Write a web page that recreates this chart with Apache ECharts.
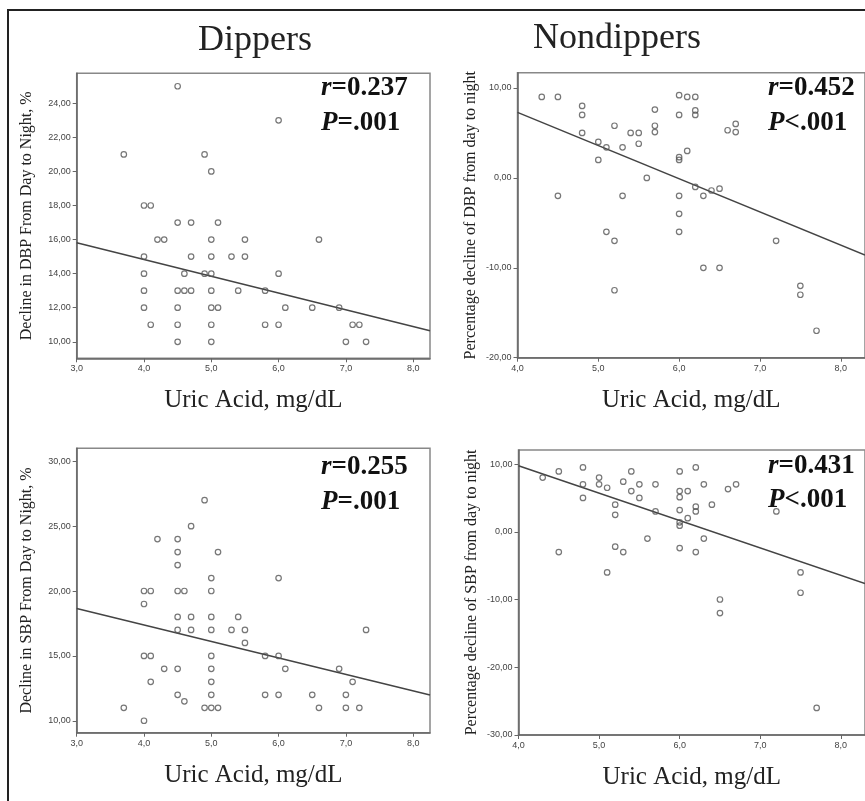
<!DOCTYPE html>
<html><head><meta charset="utf-8">
<script src="https://cdn.jsdelivr.net/npm/echarts@6.0.0/dist/echarts.min.js"></script>
<style>html,body{margin:0;padding:0;background:#fff}#c{width:865px;height:801px}</style>
</head><body><div id="c"></div>
<script>
// ---- Data ----
const panelTitles = ['Dippers', 'Nondippers'];
const xName = 'Uric Acid, mg/dL';
const yNames = ['Decline in DBP From Day to Night, %', 'Percentage decline of DBP from day to night',
                'Decline in SBP From Day to Night, %', 'Percentage decline of SBP from day to night'];
const rTexts = ['0.237', '0.452', '0.255', '0.431'];
const pTexts = ['=.001', '<.001', '=.001', '<.001'];

const xTicksDip = [3, 4, 5, 6, 7, 8];
const xTicksNon = [4, 5, 6, 7, 8];
const yTicksDipDbp = [10, 12, 14, 16, 18, 20, 22, 24];
const yTicksNonDbp = [-20, -10, 0, 10];
const yTicksDipSbp = [10, 15, 20, 25, 30];
const yTicksNonSbp = [-30, -20, -10, 0, 10];

const dipDbpX = [4.5,3.7,4.9,5.0,6.0, 4.0,4.1, 4.5,4.7,5.1, 4.2,4.3,5.0,5.5,6.6, 4.0,4.7,5.0,5.3,5.5,
  4.0,4.6,4.9,5.0,6.0, 4.0,4.5,4.6,4.7,5.0,5.4,5.8, 4.0,4.5,5.0,5.1,6.1,6.5,6.9,
  4.1,4.5,5.0,5.8,6.0,7.1,7.2, 4.5,5.0,7.0,7.3];
const dipDbpY = [25,21,21,20,23, 18,18, 17,17,17, 16,16,16,16,16, 15,15,15,15,15,
  14,14,14,14,14, 13,13,13,13,13,13,13, 12,12,12,12,12,12,12,
  11,11,11,11,11,11,11, 10,10,10,10];

const nonDbpX = [4.3,4.5,4.8,4.8,4.8,5.0,5.1,5.0,5.2,5.3,5.4,5.5,5.5,5.6,4.5,5.3,5.1,5.2,5.2,
  5.7,5.7,5.7,6.0,6.1,6.2,6.0,6.2,6.2,6.6,6.7,6.7,6.0,6.0,6.1,6.2,6.3,6.4,6.5,6.0,6.0,6.0,
  6.3,6.5,7.2,7.5,7.5,7.7];
const nonDbpY = [9.0,9.0,8.0,7.0,5.0,4.0,3.4,2.0,5.8,3.4,5.0,5.0,3.8,0,-2,-2,-6,-7,-12.5,
  7.6,5.8,5.1,9.2,9.0,9.0,7.0,7.5,7.0,5.3,6.0,5.1,2.3,2.0,3.0,-1.0,-2,-1.4,-1.2,-2,-4,-6,
  -10,-10,-7,-12,-13,-17];

const dipSbpX = [4.9,4.7,4.2,4.5,4.5,5.1,4.5,5.0,6.0, 4.0,4.1,4.5,4.6,5.0,4.0,
  4.5,4.7,5.0,5.4, 4.5,4.7,5.0,5.3,5.5,7.3, 5.5, 4.0,4.1,5.0,5.8,6.0,
  4.3,4.5,5.0,6.1,6.9, 4.1,5.0,7.1, 4.5,4.6,5.0,5.8,6.0,6.5,7.0,
  3.7,4.9,5.0,5.1,6.6,7.0,7.2, 4.0];
const dipSbpY = [27,25,24,24,23,23,22,21,21, 20,20,20,20,20,19,
  18,18,18,18, 17,17,17,17,17,17, 16, 15,15,15,15,15,
  14,14,14,14,14, 13,13,13, 12,11.5,12,12,12,12,12,
  11,11,11,11,11,11,11, 10];

const nonSbpX = [4.3,4.5,4.8,4.8,4.8,5.0,5.0,5.1,5.2,5.2,5.3,5.4,5.4,5.5,5.5,5.6,4.5,5.2,5.3,5.1,
  5.7,5.7,6.0,6.2,6.3,6.0,6.0,6.1,6.0,6.2,6.2,6.4,6.0,6.0,6.1,6.6,6.7,6.3,6.0,6.2,6.5,6.5,
  7.2,7.5,7.5,7.7];
const nonSbpY = [8.0,8.9,9.5,7.0,5.0,8.0,7.0,6.5,4.0,2.5,7.4,8.9,6.0,7.0,5.0,-1.0,-3,-2.2,-3,-6,
  7.0,3.0,8.9,9.5,7.0,6.0,5.1,6.0,3.2,3.7,3.0,4.0,1.4,0.9,2.0,6.3,7.0,-1,-2.4,-3,-10,-12,
  3.0,-6,-9,-26];

// Fit line end points (x, y)
const fitDipDbp = [[3.0, 15.81], [8.25, 10.65]];
const fitNonDbp = [[4.0, 7.29], [8.3, -8.58]];
const fitDipSbp = [[3.0, 18.66], [8.25, 11.98]];
const fitNonSbp = [[4.0, 9.74], [8.3, -7.63]];

// ---- Chart ----
const SERIF = 'Liberation Serif, Times New Roman, serif';
const SANS = 'Liberation Sans Narrow, Liberation Sans, Arial, sans-serif';
const zip = (xs, ys) => xs.map((x, i) => [x, ys[i]]);

const grids = [
  {left: 76.7, top: 73.3, width: 353.3, height: 285},
  {left: 517.5, top: 72.7, width: 358, height: 285},
  {left: 76.7, top: 448.3, width: 353.3, height: 284.4},
  {left: 518.5, top: 450, width: 356, height: 285}
].map(g => Object.assign({show: true, borderColor: '#888', borderWidth: 1.5, backgroundColor: '#fff'}, g));

const xRanges = [[3, 8.25, xTicksDip], [4, 8.3, xTicksNon], [3, 8.25, xTicksDip], [4, 8.3, xTicksNon]];
const yRanges = [[9.03, 25.76, yTicksDipDbp], [-20, 11.7, yTicksNonDbp], [9.08, 31.0, yTicksDipSbp], [-30, 12.07, yTicksNonSbp]];
const yGaps = [42, 39, 42, 39];

const axisLineStyle = {show: true, onZero: false, lineStyle: {color: '#666', width: 1.5}};
const tickStyle = {show: true, length: 4, lineStyle: {color: '#666', width: 1}};

const xAxes = xRanges.map((r, i) => ({
  type: 'value', gridIndex: i, min: r[0], max: r[1], position: 'bottom',
  splitLine: {show: false},
  axisLine: axisLineStyle,
  name: xName, nameLocation: 'middle', nameGap: 30,
  nameTextStyle: {fontFamily: SERIF, fontSize: 25, color: '#222'},
  axisTick: Object.assign({}, tickStyle, {customValues: r[2]}),
  axisLabel: {customValues: r[2], fontFamily: SANS, fontSize: 9, color: '#444', margin: 6,
    formatter: v => v.toFixed(1).replace('.', ',')}
}));

const yAxes = yRanges.map((r, i) => ({
  type: 'value', gridIndex: i, min: r[0], max: r[1], position: 'left',
  splitLine: {show: false},
  axisLine: axisLineStyle,
  name: yNames[i], nameLocation: 'middle', nameGap: yGaps[i],
  nameTextStyle: {fontFamily: SERIF, fontSize: 16, color: '#222'},
  axisTick: Object.assign({}, tickStyle, {customValues: r[2]}),
  axisLabel: {customValues: r[2], fontFamily: SANS, fontSize: 9, color: '#444', margin: 6,
    formatter: v => v.toFixed(2).replace('.', ',')}
}));

const scatterData = [zip(dipDbpX, dipDbpY), zip(nonDbpX, nonDbpY), zip(dipSbpX, dipSbpY), zip(nonSbpX, nonSbpY)];
const fits = [fitDipDbp, fitNonDbp, fitDipSbp, fitNonSbp];

const series = [];
scatterData.forEach((d, i) => {
  series.push({type: 'line', xAxisIndex: i, yAxisIndex: i, data: fits[i], symbol: 'none',
    lineStyle: {color: '#444', width: 1.5}, silent: true, z: 2});
  series.push({type: 'scatter', xAxisIndex: i, yAxisIndex: i, data: d, symbol: 'circle', symbolSize: 5.5,
    itemStyle: {color: 'rgba(255,255,255,0)', borderColor: '#555', borderWidth: 1.2}, z: 3});
});

const statPos = [[321, 88, 123], [768, 88, 123], [321, 467, 502], [768, 466, 500]];
const richStat = {
  i: {fontStyle: 'italic', fontWeight: 'bold', fontSize: 27, fontFamily: SERIF, fill: '#111', color: '#111'},
  n: {fontWeight: 'bold', fontSize: 27, fontFamily: SERIF, fill: '#111', color: '#111'}
};
const graphics = [
  {type: 'rect', shape: {x: 8, y: 10, width: 900, height: 900}, style: {fill: 'none', stroke: '#222', lineWidth: 2}, z: 100, silent: true},
  {type: 'text', x: 255, y: 41, style: {text: panelTitles[0], font: '36px ' + SERIF, fill: '#222', align: 'center', verticalAlign: 'middle'}},
  {type: 'text', x: 617, y: 39, style: {text: panelTitles[1], font: '36px ' + SERIF, fill: '#222', align: 'center', verticalAlign: 'middle'}}
];
statPos.forEach((p, i) => {
  graphics.push({type: 'text', x: p[0], y: p[1], z: 50,
    style: {text: '{i|r}{n|=' + rTexts[i] + '}', rich: richStat, align: 'left', verticalAlign: 'middle'}});
  graphics.push({type: 'text', x: p[0], y: p[2], z: 50,
    style: {text: '{i|P}{n|' + pTexts[i] + '}', rich: richStat, align: 'left', verticalAlign: 'middle'}});
});

const chart = echarts.init(document.getElementById('c'), null, {renderer: 'canvas'});
chart.setOption({
  animation: false,
  backgroundColor: '#fff',
  grid: grids,
  xAxis: xAxes,
  yAxis: yAxes,
  series: series,
  graphic: graphics
});
</script></body></html>
